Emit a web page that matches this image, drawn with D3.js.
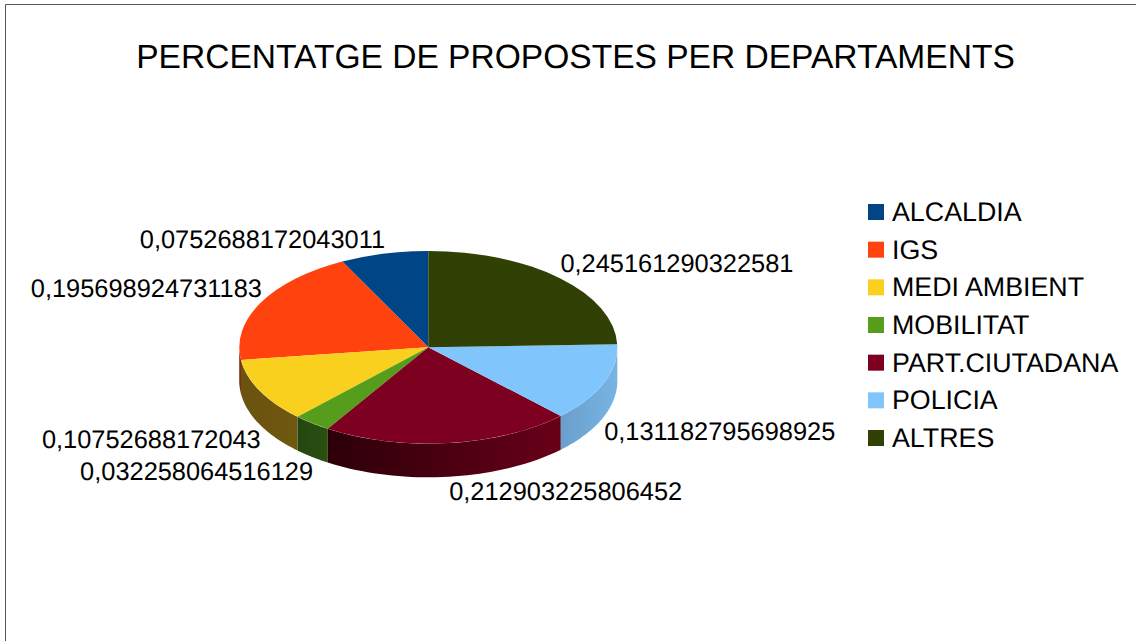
<!DOCTYPE html>
<html><head><meta charset="utf-8">
<script src="https://cdn.jsdelivr.net/npm/d3@7/dist/d3.min.js"></script>
<style>html,body{margin:0;padding:0;background:#fff;overflow:hidden}svg{display:block}text{font-family:"Liberation Sans",Arial,sans-serif;fill:#000;text-rendering:geometricPrecision}</style>
</head><body><svg id="c" width="1136" height="641"></svg>
<script>
const categories = ["ALCALDIA","IGS","MEDI AMBIENT","MOBILITAT","PART.CIUTADANA","POLICIA","ALTRES"];
const values = [0.0752688172043011,0.195698924731183,0.10752688172043,0.032258064516129,0.212903225806452,0.131182795698925,0.245161290322581];
const valueLabels = ["0,0752688172043011","0,195698924731183","0,10752688172043","0,032258064516129","0,212903225806452","0,131182795698925","0,245161290322581"];
const colors = ["#004586","#ff420e","#fad01e","#579d1c","#7e0021","#80c5fb","#314004"];
const sideLeft = ["#002a50","#6a1004","#6a5210","#244510","#2c0009","#6a9fcc","#1a2402"];
const sideRight = ["#003a70","#8a1c06","#705810","#2a5010","#680018","#78b4e2","#222c04"];
const title = "PERCENTATGE DE PROPOSTES PER DEPARTAMENTS";

const W=1136,H=641,cx=428.3,cy=347.3,rx=189,ry=96.3,depth=33.7,fs=25.4,legendFs=26.8;
const svg=d3.select("#c");
svg.append("path").attr("d",d3.line()([[W,4.5],[5.5,4.5],[5.5,H]])).attr("fill","none").attr("stroke","#555").attr("stroke-width",1);
svg.append("text").attr("x",575.5).attr("y",68).attr("text-anchor","middle").attr("font-size",33.55).text(title);

const pie=d3.pie().sort(null).startAngle(0).endAngle(-2*Math.PI).value(d=>d);
const arcs=pie(values);
const px=a=>cx+rx*Math.sin(a), py=a=>cy-ry*Math.cos(a);
const defs=svg.append("defs");
const chart=svg.append("g");

// visible side walls: the part of each slice in the lower half of the ellipse
arcs.forEach((d,i)=>{
  let a0=d.endAngle,a1=d.startAngle;
  const lo=-1.5*Math.PI,hi=-0.5*Math.PI;
  a0=Math.max(a0,lo);a1=Math.min(a1,hi);
  if(a1<=a0) return;
  const pts=d3.range(0,41).map(k=>a0+(a1-a0)*k/40);
  const top=pts.map(a=>[px(a),py(a)]);
  const bot=pts.slice().reverse().map(a=>[px(a),py(a)+depth]);
  const xs=top.map(p=>p[0]);
  const id="side"+i;
  const g=defs.append("linearGradient").attr("id",id).attr("gradientUnits","userSpaceOnUse")
    .attr("x1",d3.min(xs)).attr("x2",d3.max(xs)).attr("y1",0).attr("y2",0);
  g.append("stop").attr("offset",0).attr("stop-color",sideLeft[i]);
  g.append("stop").attr("offset",1).attr("stop-color",sideRight[i]);
  chart.append("path").attr("d",d3.line()(top.concat(bot))+"Z").attr("fill",`url(#${id})`);
});

// top faces
const arcGen=d3.arc().innerRadius(0).outerRadius(rx);
chart.append("g").attr("transform",`translate(${cx},${cy}) scale(1,${ry/rx})`)
  .selectAll("path").data(arcs).join("path").attr("d",arcGen).attr("fill",(d,i)=>colors[i]);

// value labels, anchored on the rim at each slice's mid-angle
arcs.forEach((d,i)=>{
  const m=(d.startAngle+d.endAngle)/2, lower=Math.cos(m)<0;
  svg.append("text").attr("font-size",fs)
    .attr("x",px(m)+(Math.sin(m)<0?1:0.5))
    .attr("y",lower?py(m)+depth+23.5:py(m)-6)
    .attr("text-anchor",Math.sin(m)<0?"end":"start").text(valueLabels[i]);
});

// legend
const ly=d3.scalePoint().domain(categories).range([212,438]);
const leg=svg.append("g").selectAll("g").data(categories).join("g").attr("transform",d=>`translate(868,${ly(d)})`);
leg.append("rect").attr("x",0).attr("y",-8).attr("width",16).attr("height",16).attr("fill",(d,i)=>colors[i]);
leg.append("text").attr("x",24).attr("y",9).attr("font-size",legendFs).text(d=>d);
</script></body></html>
